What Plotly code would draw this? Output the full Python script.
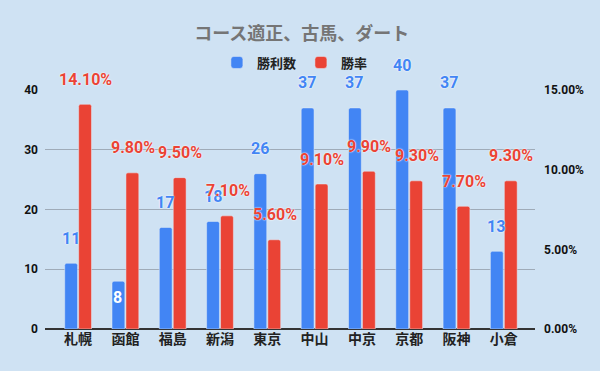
import plotly.graph_objects as go

categories = ["札幌", "函館", "福島", "新潟", "東京", "中山", "中京", "京都", "阪神", "小倉"]
wins = [11, 8, 17, 18, 26, 37, 37, 40, 37, 13]
win_rate = [14.1, 9.8, 9.5, 7.1, 5.6, 9.1, 9.9, 9.3, 7.7, 9.3]

BLUE = "#4285f4"
RED = "#ea4335"
BG = "#cfe2f3"
FONT = "Roboto, 'Noto Sans CJK JP', sans-serif"
HALO = "0px 0px 1px #ffffff, 0px 0px 2px #ffffff"

fig = go.Figure()
fig.add_trace(go.Bar(x=categories, y=wins, name="勝利数", marker_color=BLUE,
                     offsetgroup="a", yaxis="y"))
fig.add_trace(go.Bar(x=categories, y=[v / 100 for v in win_rate], name="勝率",
                     marker_color=RED, offsetgroup="b", yaxis="y2"))

ann = []
for c, v in zip(categories, wins):
    inside = v < 10
    ann.append(dict(x=c, y=v, xref="x", yref="y", text=str(v), showarrow=False,
                    xshift=-7.5, yshift=-16 if inside else 25,
                    font=dict(family=FONT, size=16, weight="bold",
                              color="#ffffff" if inside else BLUE,
                              shadow=HALO if not inside else "none")))
for c, v in zip(categories, win_rate):
    ann.append(dict(x=c, y=v / 100, xref="x", yref="y2", text=f"{v:.2f}%", showarrow=False,
                    xshift=7.5, yshift=25,
                    font=dict(family=FONT, size=16, weight="bold", color=RED,
                              shadow=HALO)))

fig.update_layout(
    width=600, height=371,
    paper_bgcolor=BG, plot_bgcolor=BG,
    margin=dict(l=45, r=65, t=90, b=42),
    barmode="group", bargap=0.41, bargroupgap=0.08, barcornerradius=2,
    title=dict(text="<b>コース適正、古馬、ダート</b>", x=0.503, xanchor="center", y=0.91, yanchor="middle",
               font=dict(family=FONT, size=18, color="#757575")),
    legend=dict(orientation="h", x=0.51, xanchor="center", y=1.115, yanchor="middle",
                font=dict(family=FONT, size=13, color="#222222", weight="bold"),
                bgcolor="rgba(0,0,0,0)", itemwidth=30, traceorder="normal"),
    xaxis=dict(type="category", range=[-0.7, 9.66], showgrid=False, showline=False, ticks="",
               tickfont=dict(family=FONT, size=14, color="#222222", weight="bold")),
    yaxis=dict(range=[0, 40], tickvals=[0, 10, 20, 30, 40], showgrid=True, gridcolor="#9fabb8",
               gridwidth=1, zeroline=True, zerolinecolor="#333333", zerolinewidth=1.5,
               tickfont=dict(family=FONT, size=12, color="#111111", weight="bold"), ticklen=0,
               ticks="", ticklabelstandoff=6),
    yaxis2=dict(range=[0, 0.15], overlaying="y", side="right", tickvals=[0, 0.05, 0.10, 0.15],
                tickformat=".2%", showgrid=False, zeroline=False,
                tickfont=dict(family=FONT, size=12, color="#111111", weight="bold"), ticks="",
                ticklabelstandoff=8),
    annotations=ann,
    font=dict(family=FONT),
)

fig.write_html("out.html", config={"displayModeBar": False},
               post_script="document.body.style.margin='0';")
